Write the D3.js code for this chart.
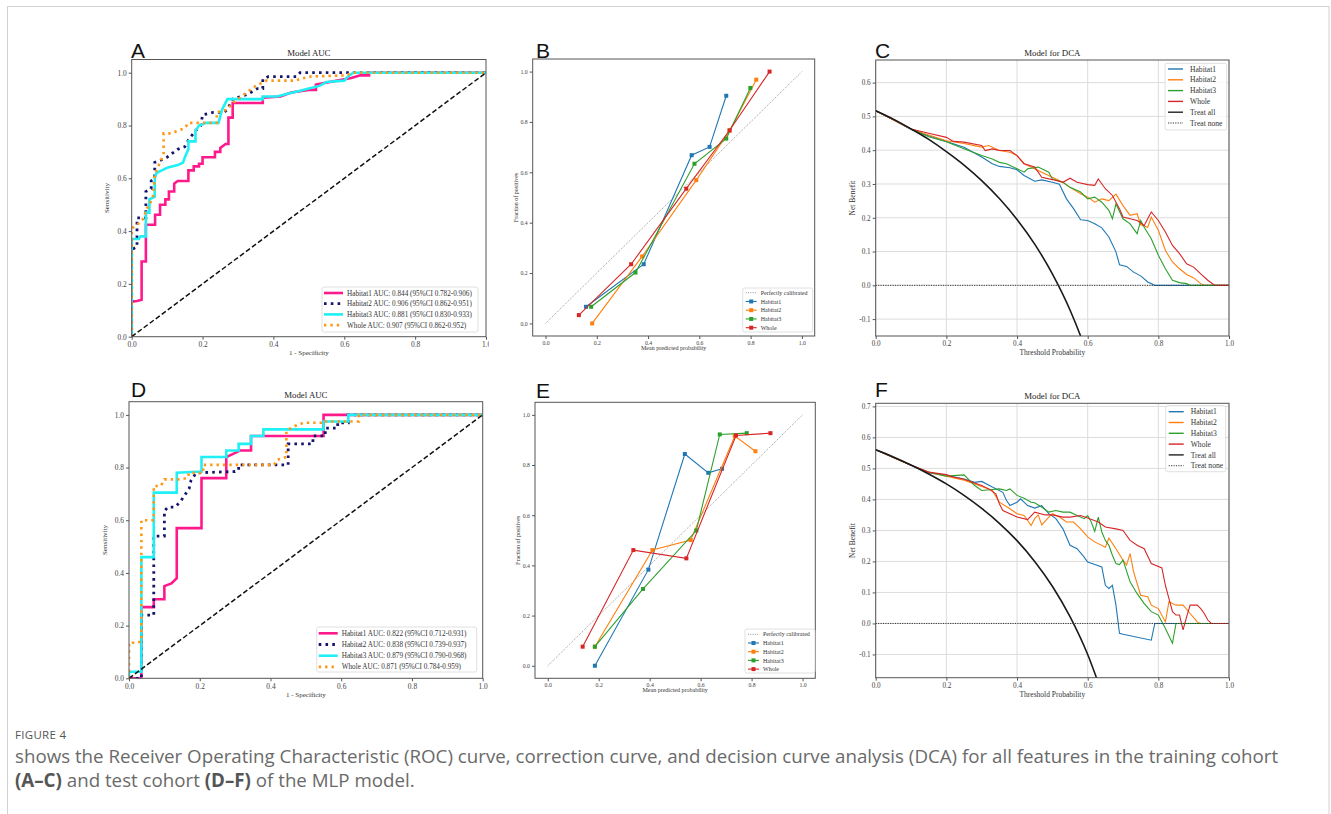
<!DOCTYPE html>
<html>
<head>
<meta charset="utf-8">
<script src="https://cdn.jsdelivr.net/npm/d3@7"></script>
<style>
  body { margin: 0; background: #fff; }
  svg text { font-family: "Liberation Serif", "Times New Roman", serif; }
</style>
</head>
<body>
<svg id="fig" width="1331" height="814"></svg>
<script>
// ---------- data ----------

// ROC, training cohort (panel A): [1 - specificity, sensitivity]
const rocTrainH1 = [[0,0],[0,0.133],[0.015,0.135],[0.028,0.14],[0.028,0.285],[0.04,0.285],[0.04,0.424],[0.066,0.424],[0.066,0.462],[0.08,0.462],[0.08,0.5],[0.095,0.5],[0.095,0.52],[0.105,0.52],[0.105,0.55],[0.12,0.55],[0.12,0.58],[0.13,0.59],[0.16,0.59],[0.16,0.63],[0.175,0.63],[0.175,0.645],[0.19,0.645],[0.19,0.655],[0.2,0.655],[0.2,0.68],[0.235,0.68],[0.235,0.7],[0.25,0.7],[0.25,0.715],[0.265,0.73],[0.273,0.73],[0.273,0.83],[0.285,0.83],[0.285,0.885],[0.37,0.885],[0.37,0.905],[0.42,0.91],[0.45,0.925],[0.5,0.935],[0.52,0.935],[0.52,0.955],[0.58,0.97],[0.62,0.98],[0.645,0.99],[0.67,0.99],[0.67,1],[1,1]];
const rocTrainH2 = [[0,0],[0,0.33],[0.015,0.34],[0.015,0.45],[0.04,0.45],[0.04,0.55],[0.055,0.56],[0.055,0.59],[0.065,0.6],[0.065,0.66],[0.085,0.67],[0.1,0.68],[0.11,0.69],[0.13,0.71],[0.15,0.72],[0.16,0.745],[0.18,0.78],[0.195,0.8],[0.2,0.84],[0.23,0.85],[0.26,0.85],[0.27,0.86],[0.285,0.9],[0.31,0.91],[0.33,0.92],[0.355,0.94],[0.37,0.94],[0.37,0.975],[0.385,0.985],[0.465,0.985],[0.475,1],[1,1]];
const rocTrainH3 = [[0,0],[0,0.37],[0.02,0.37],[0.025,0.38],[0.04,0.38],[0.04,0.47],[0.05,0.47],[0.05,0.52],[0.065,0.53],[0.065,0.6],[0.07,0.62],[0.085,0.63],[0.1,0.64],[0.13,0.65],[0.145,0.66],[0.15,0.68],[0.16,0.71],[0.16,0.74],[0.18,0.74],[0.18,0.78],[0.19,0.8],[0.21,0.81],[0.245,0.81],[0.255,0.86],[0.27,0.9],[0.37,0.9],[0.37,0.91],[0.41,0.91],[0.44,0.92],[0.47,0.93],[0.5,0.94],[0.53,0.95],[0.55,0.965],[0.6,0.97],[0.61,0.985],[0.625,1],[1,1]];
const rocTrainWhole = [[0,0],[0,0.41],[0.01,0.42],[0.02,0.43],[0.035,0.45],[0.04,0.48],[0.05,0.5],[0.06,0.53],[0.065,0.61],[0.07,0.63],[0.08,0.66],[0.09,0.69],[0.09,0.77],[0.11,0.77],[0.13,0.78],[0.15,0.79],[0.16,0.81],[0.24,0.81],[0.24,0.85],[0.27,0.86],[0.28,0.88],[0.3,0.9],[0.33,0.93],[0.35,0.95],[0.38,0.97],[0.46,0.97],[0.5,0.985],[0.6,0.99],[0.63,1],[1,1]];
const rocTrainLabels = ['Habitat1 AUC: 0.844 (95%CI 0.782-0.906)', 'Habitat2 AUC: 0.906 (95%CI 0.862-0.951)', 'Habitat3 AUC: 0.881 (95%CI 0.830-0.933)', 'Whole AUC: 0.907 (95%CI 0.862-0.952)'];

// ROC, test cohort (panel D)
const rocTestH1 = [[0,0],[0.035,0],[0.035,0.27],[0.07,0.27],[0.07,0.3],[0.1,0.3],[0.1,0.35],[0.12,0.36],[0.135,0.38],[0.135,0.57],[0.205,0.57],[0.205,0.76],[0.275,0.76],[0.275,0.84],[0.315,0.865],[0.345,0.865],[0.345,0.92],[0.55,0.92],[0.55,1],[1,1]];
const rocTestH2 = [[0,0],[0.035,0],[0.035,0.24],[0.07,0.24],[0.07,0.54],[0.1,0.54],[0.1,0.635],[0.11,0.65],[0.13,0.65],[0.145,0.67],[0.16,0.7],[0.17,0.72],[0.175,0.75],[0.19,0.78],[0.3,0.785],[0.31,0.79],[0.31,0.81],[0.45,0.81],[0.45,0.89],[0.52,0.89],[0.52,0.92],[0.555,0.92],[0.555,0.95],[0.59,0.95],[0.59,0.97],[0.62,0.97],[0.62,1],[1,1]];
const rocTestH3 = [[0,0],[0,0.025],[0.035,0.025],[0.035,0.46],[0.07,0.46],[0.07,0.705],[0.135,0.705],[0.135,0.78],[0.205,0.785],[0.205,0.84],[0.275,0.84],[0.275,0.865],[0.31,0.865],[0.31,0.89],[0.345,0.89],[0.345,0.92],[0.38,0.92],[0.38,0.945],[0.55,0.945],[0.55,0.975],[0.62,0.975],[0.62,1],[1,1]];
const rocTestWhole = [[0,0],[0,0.135],[0.02,0.135],[0.035,0.14],[0.035,0.6],[0.07,0.6],[0.07,0.73],[0.09,0.73],[0.1,0.755],[0.14,0.755],[0.165,0.76],[0.17,0.78],[0.21,0.78],[0.21,0.81],[0.41,0.81],[0.42,0.83],[0.445,0.84],[0.445,0.94],[0.48,0.965],[0.5,0.97],[0.55,0.97],[0.55,0.975],[0.65,0.975],[0.65,1],[1,1]];
const rocTestLabels = ['Habitat1 AUC: 0.822 (95%CI 0.712-0.931)', 'Habitat2 AUC: 0.838 (95%CI 0.739-0.937)', 'Habitat3 AUC: 0.879 (95%CI 0.790-0.968)', 'Whole AUC: 0.871 (95%CI 0.784-0.959)'];

// calibration, training cohort (panel B): [mean predicted, fraction of positives]
const calTrainH1 = [[0.158,0.066],[0.383,0.235],[0.57,0.668],[0.64,0.701],[0.705,0.904]];
const calTrainH2 = [[0.182,0.0],[0.377,0.266],[0.588,0.569],[0.718,0.765],[0.822,0.968]];
const calTrainH3 = [[0.178,0.066],[0.351,0.202],[0.581,0.634],[0.705,0.734],[0.799,0.935]];
const calTrainWhole = [[0.13,0.033],[0.334,0.235],[0.549,0.535],[0.718,0.767],[0.874,1.0]];

// calibration, test cohort (panel E)
const calTestH1 = [[0.185,0.0],[0.395,0.383],[0.538,0.844],[0.63,0.769],[0.684,0.785]];
const calTestH2 = [[0.185,0.076],[0.411,0.461],[0.561,0.501],[0.734,0.915],[0.815,0.855]];
const calTestH3 = [[0.185,0.076],[0.374,0.306],[0.583,0.539],[0.675,0.922],[0.781,0.927]];
const calTestWhole = [[0.137,0.076],[0.336,0.461],[0.544,0.428],[0.739,0.918],[0.874,0.927]];

const seriesNames = ['Habitat1', 'Habitat2', 'Habitat3', 'Whole'];

// decision curves, training cohort (panel C): [threshold, net benefit]
const dcaTrainH1 = [[0,0.517],[0.05,0.49],[0.1,0.461],[0.15,0.443],[0.2,0.426],[0.25,0.409],[0.3,0.38],[0.33,0.36],[0.35,0.352],[0.38,0.348],[0.4,0.342],[0.42,0.325],[0.45,0.308],[0.47,0.312],[0.5,0.305],[0.52,0.299],[0.54,0.256],[0.56,0.227],[0.58,0.194],[0.6,0.192],[0.62,0.182],[0.64,0.17],[0.66,0.143],[0.68,0.099],[0.69,0.061],[0.71,0.056],[0.73,0.039],[0.75,0.028],[0.77,0.01],[0.79,0],[1,0]];
const dcaTrainH2 = [[0,0.517],[0.05,0.49],[0.1,0.463],[0.15,0.445],[0.2,0.428],[0.25,0.42],[0.3,0.409],[0.32,0.414],[0.35,0.399],[0.38,0.394],[0.4,0.384],[0.42,0.36],[0.45,0.345],[0.47,0.335],[0.5,0.32],[0.53,0.305],[0.55,0.29],[0.58,0.271],[0.6,0.261],[0.62,0.246],[0.64,0.256],[0.66,0.251],[0.68,0.27],[0.7,0.236],[0.72,0.207],[0.74,0.212],[0.75,0.179],[0.77,0.172],[0.78,0.202],[0.8,0.163],[0.82,0.103],[0.84,0.069],[0.86,0.049],[0.88,0.032],[0.9,0.022],[0.92,0.005],[0.93,0],[1,0]];
const dcaTrainH3 = [[0,0.517],[0.05,0.49],[0.1,0.463],[0.15,0.44],[0.2,0.425],[0.25,0.404],[0.3,0.384],[0.33,0.374],[0.35,0.364],[0.37,0.36],[0.4,0.345],[0.42,0.335],[0.43,0.345],[0.46,0.35],[0.49,0.335],[0.5,0.315],[0.53,0.305],[0.55,0.29],[0.58,0.276],[0.6,0.256],[0.62,0.261],[0.64,0.246],[0.66,0.222],[0.67,0.197],[0.68,0.241],[0.7,0.197],[0.72,0.182],[0.74,0.153],[0.75,0.192],[0.76,0.172],[0.78,0.138],[0.8,0.089],[0.82,0.049],[0.84,0.015],[0.86,0.008],[0.88,0.005],[0.89,0],[1,0]];
const dcaTrainWhole = [[0,0.517],[0.05,0.49],[0.1,0.463],[0.15,0.45],[0.2,0.438],[0.22,0.426],[0.25,0.424],[0.3,0.414],[0.31,0.399],[0.33,0.404],[0.35,0.399],[0.38,0.399],[0.4,0.384],[0.42,0.36],[0.45,0.35],[0.47,0.32],[0.5,0.313],[0.53,0.305],[0.55,0.317],[0.57,0.305],[0.6,0.298],[0.62,0.296],[0.63,0.315],[0.65,0.286],[0.67,0.266],[0.69,0.227],[0.7,0.202],[0.72,0.197],[0.74,0.192],[0.76,0.177],[0.78,0.217],[0.8,0.192],[0.82,0.158],[0.84,0.118],[0.86,0.094],[0.88,0.064],[0.9,0.054],[0.92,0.034],[0.94,0.015],[0.96,0],[1,0]];

// decision curves, test cohort (panel F)
const dcaTestH1 = [[0,0.56],[0.05,0.535],[0.1,0.51],[0.15,0.485],[0.2,0.478],[0.25,0.466],[0.28,0.455],[0.3,0.458],[0.33,0.44],[0.36,0.423],[0.37,0.397],[0.38,0.38],[0.4,0.391],[0.41,0.402],[0.43,0.38],[0.45,0.372],[0.47,0.38],[0.49,0.354],[0.51,0.338],[0.53,0.305],[0.55,0.252],[0.57,0.241],[0.59,0.214],[0.6,0.198],[0.62,0.19],[0.64,0.182],[0.65,0.123],[0.66,0.113],[0.67,0.123],[0.68,0.059],[0.69,-0.032],[0.7,-0.035],[0.78,-0.054],[0.79,0],[1,0]];
const dcaTestH2 = [[0,0.56],[0.05,0.535],[0.1,0.51],[0.15,0.487],[0.2,0.475],[0.25,0.462],[0.3,0.442],[0.33,0.429],[0.35,0.391],[0.38,0.37],[0.4,0.354],[0.42,0.348],[0.44,0.316],[0.45,0.338],[0.46,0.35],[0.47,0.318],[0.49,0.343],[0.5,0.354],[0.52,0.343],[0.54,0.327],[0.56,0.327],[0.58,0.305],[0.6,0.279],[0.62,0.263],[0.65,0.246],[0.66,0.275],[0.68,0.241],[0.7,0.204],[0.71,0.188],[0.72,0.225],[0.73,0.166],[0.75,0.091],[0.77,0.086],[0.78,0.059],[0.8,0.048],[0.82,0.005],[0.83,0.07],[0.85,0.059],[0.87,0.059],[0.89,0.032],[0.91,0.005],[0.92,0],[1,0]];
const dcaTestH3 = [[0,0.56],[0.05,0.535],[0.1,0.51],[0.15,0.488],[0.2,0.475],[0.25,0.479],[0.28,0.445],[0.3,0.429],[0.33,0.432],[0.35,0.434],[0.37,0.429],[0.38,0.434],[0.4,0.413],[0.42,0.404],[0.44,0.391],[0.45,0.389],[0.47,0.375],[0.49,0.359],[0.51,0.364],[0.53,0.359],[0.55,0.359],[0.57,0.348],[0.59,0.338],[0.6,0.348],[0.61,0.327],[0.62,0.297],[0.63,0.343],[0.64,0.295],[0.65,0.268],[0.66,0.252],[0.67,0.22],[0.68,0.193],[0.69,0.19],[0.7,0.204],[0.72,0.134],[0.74,0.096],[0.76,0.064],[0.78,0.038],[0.8,0.027],[0.82,-0.016],[0.84,-0.064],[0.85,0],[1,0]];
const dcaTestWhole = [[0,0.56],[0.05,0.535],[0.1,0.51],[0.15,0.488],[0.2,0.48],[0.22,0.472],[0.25,0.465],[0.3,0.445],[0.32,0.434],[0.34,0.418],[0.35,0.386],[0.36,0.364],[0.38,0.354],[0.4,0.343],[0.43,0.335],[0.45,0.359],[0.48,0.35],[0.5,0.35],[0.53,0.343],[0.55,0.343],[0.58,0.348],[0.6,0.34],[0.63,0.327],[0.65,0.311],[0.68,0.305],[0.7,0.3],[0.72,0.268],[0.74,0.252],[0.76,0.241],[0.78,0.193],[0.81,0.179],[0.82,0.123],[0.84,0.038],[0.85,0.027],[0.86,0.027],[0.87,-0.021],[0.88,0.021],[0.89,0.059],[0.91,0.059],[0.92,0.048],[0.93,0.032],[0.94,0.011],[0.95,0],[1,0]];

// "treat all" curves, read at these thresholds
const treatAllThresh = [0,0.05,0.1,0.15,0.2,0.25,0.3,0.35,0.4,0.45,0.5,0.55,0.6,0.65];
const treatAllTrain = [0.517,0.492,0.463,0.432,0.396,0.356,0.31,0.257,0.195,0.122,0.034,-0.073,-0.208,-0.38];
const treatAllTest = [0.56,0.537,0.511,0.482,0.45,0.413,0.371,0.323,0.267,0.2,0.12,0.022,-0.1,-0.257];
const dcaLegend = ['Habitat1', 'Habitat2', 'Habitat3', 'Whole', 'Treat all', 'Treat none'];

// tick values
const unitTicks = [0, 0.2, 0.4, 0.6, 0.8, 1.0];
const dcaTrainYTicks = [-0.1, 0, 0.1, 0.2, 0.3, 0.4, 0.5, 0.6];
const dcaTestYTicks = [-0.1, 0, 0.1, 0.2, 0.3, 0.4, 0.5, 0.6, 0.7];

// ---------- styles ----------
const rocStyles = [
  {color: '#ff1a8c', width: 2.6, dash: null},
  {color: '#14146e', width: 2.8, dash: '2.6,4.2'},
  {color: '#1ff0f5', width: 2.6, dash: null},
  {color: '#ff9614', width: 2.6, dash: '2.4,4'}
];
const tabColors = ['#1f77b4', '#ff7f0e', '#2ca02c', '#d62728'];
const serif = '"Liberation Serif", "Times New Roman", serif';

const svg = d3.select('#fig');

// light frame around the whole figure
svg.append('rect')
  .attr('x', 7.5).attr('y', 6.5)
  .attr('width', 1321.5).attr('height', 900)
  .attr('fill', 'none').attr('stroke', '#d2d2d2');

// builds the axes box for one panel, returns scales and layers
function setupPanel(p) {
  const x = d3.scaleLinear().domain(p.xd).range([p.left, p.right]);
  const y = d3.scaleLinear().domain(p.yd).range([p.bottom, p.top]);
  const g = svg.append('g');
  const gridLayer = g.append('g');
  const axisLayer = g.append('g');

  svg.append('clipPath').attr('id', 'clip' + p.key)
    .append('rect')
    .attr('x', p.left).attr('y', p.top)
    .attr('width', p.right - p.left).attr('height', p.bottom - p.top);

  const plot = g.append('g').attr('clip-path', `url(#clip${p.key})`);
  const over = g.append('g');

  if (p.grid) {
    gridLayer.selectAll('.vg').data(p.xticks).enter().append('line')
      .attr('x1', d => x(d)).attr('x2', d => x(d))
      .attr('y1', p.top).attr('y2', p.bottom)
      .attr('stroke', '#dcdcdc').attr('stroke-width', 1);
    gridLayer.selectAll('.hg').data(p.yticks).enter().append('line')
      .attr('y1', d => y(d)).attr('y2', d => y(d))
      .attr('x1', p.left).attr('x2', p.right)
      .attr('stroke', '#dcdcdc').attr('stroke-width', 1);
  }

  const fmt = d => d.toFixed(1);
  const xAxis = axisLayer.append('g')
    .attr('transform', `translate(0,${p.bottom})`)
    .call(d3.axisBottom(x).tickValues(p.xticks).tickFormat(fmt).tickSize(3).tickPadding(2));
  const yAxis = axisLayer.append('g')
    .attr('transform', `translate(${p.left},0)`)
    .call(d3.axisLeft(y).tickValues(p.yticks).tickFormat(fmt).tickSize(3).tickPadding(2));

  [xAxis, yAxis].forEach(a => {
    a.select('.domain').remove();
    a.selectAll('.tick line').attr('stroke', '#555');
    a.selectAll('.tick text')
      .attr('fill', '#444')
      .style('font-family', serif)
      .style('font-size', p.tickFont + 'px');
  });
  if (p.clipX) xAxis.attr('clip-path', 'url(#clipEdge)');

  // frame on top of the lines
  over.append('rect')
    .attr('x', p.left).attr('y', p.top)
    .attr('width', p.right - p.left).attr('height', p.bottom - p.top)
    .attr('fill', 'none').attr('stroke', '#555').attr('stroke-width', 1);

  // titles and labels
  if (p.title) {
    over.append('text')
      .attr('x', (p.left + p.right) / 2).attr('y', p.top - 4)
      .attr('text-anchor', 'middle')
      .style('font-size', '8.8px').attr('fill', '#222')
      .text(p.title);
  }
  over.append('text')
    .attr('x', (p.left + p.right) / 2).attr('y', p.xlabY)
    .attr('text-anchor', 'middle')
    .style('font-size', p.labFont + 'px').attr('fill', '#333')
    .text(p.xlab);
  over.append('text')
    .attr('transform', `translate(${p.ylabX},${(p.top + p.bottom) / 2}) rotate(-90)`)
    .attr('text-anchor', 'middle')
    .style('font-size', p.labFont + 'px').attr('fill', '#333')
    .text(p.ylab);

  // panel letter
  svg.append('text')
    .attr('x', p.letterX).attr('y', p.letterY)
    .style('font-family', '"Liberation Sans", Arial, sans-serif')
    .style('font-size', '21px').attr('fill', '#111')
    .text(p.key);

  return {x, y, plot, over};
}

// clip so that the last tick label of panel A is cut like the original
svg.append('clipPath').attr('id', 'clipEdge')
  .append('rect').attr('x', 0).attr('y', 0).attr('width', 489).attr('height', 814);

function legendBox(layer, box) {
  layer.append('rect')
    .attr('x', box.x).attr('y', box.y)
    .attr('width', box.w).attr('height', box.h)
    .attr('rx', 2)
    .attr('fill', '#fff').attr('fill-opacity', 0.85)
    .attr('stroke', '#d8d8d8').attr('stroke-width', 0.8);
}

// ---------- ROC panels ----------
function drawRoc(p, series, labels, box) {
  const {x, y, plot, over} = setupPanel(p);
  const line = d3.line().x(d => x(d[0])).y(d => y(d[1]));

  series.forEach((s, i) => {
    const st = rocStyles[i];
    plot.append('path')
      .datum(s)
      .attr('d', line)
      .attr('fill', 'none')
      .attr('stroke', st.color)
      .attr('stroke-width', st.width)
      .attr('stroke-dasharray', st.dash);
  });

  // chance diagonal
  plot.append('path')
    .datum([[0, 0], [1, 1]])
    .attr('d', line)
    .attr('fill', 'none')
    .attr('stroke', '#111')
    .attr('stroke-width', 1.5)
    .attr('stroke-dasharray', '5,2.5');

  legendBox(over, box);
  labels.forEach((lab, i) => {
    const st = rocStyles[i];
    const yy = box.y + box.pad + i * box.step;
    over.append('line')
      .attr('x1', box.x + 2).attr('x2', box.x + 21)
      .attr('y1', yy).attr('y2', yy)
      .attr('stroke', st.color).attr('stroke-width', st.width)
      .attr('stroke-dasharray', st.dash);
    over.append('text')
      .attr('x', box.x + 25).attr('y', yy)
      .attr('dy', '0.35em')
      .style('font-size', '7.2px').attr('fill', '#333')
      .text(lab);
  });
}

// ---------- calibration panels ----------
function drawCal(p, series, box) {
  const {x, y, plot, over} = setupPanel(p);
  const line = d3.line().x(d => x(d[0])).y(d => y(d[1]));

  plot.append('path')
    .datum([[0, 0], [1, 1]])
    .attr('d', line)
    .attr('fill', 'none')
    .attr('stroke', '#777')
    .attr('stroke-width', 0.8)
    .attr('stroke-dasharray', '1,1.3');

  series.forEach((s, i) => {
    plot.append('path')
      .datum(s)
      .attr('d', line)
      .attr('fill', 'none')
      .attr('stroke', tabColors[i])
      .attr('stroke-width', 1.1);
    plot.selectAll('.m' + i).data(s).enter().append('rect')
      .attr('x', d => x(d[0]) - 2).attr('y', d => y(d[1]) - 2)
      .attr('width', 4).attr('height', 4)
      .attr('fill', tabColors[i]);
  });

  legendBox(over, box);
  const names = ['Perfectly calibrated'].concat(seriesNames);
  names.forEach((n, i) => {
    const yy = box.y + box.pad + i * box.step;
    const color = i === 0 ? '#777' : tabColors[i - 1];
    over.append('line')
      .attr('x1', box.x + 3).attr('x2', box.x + 14)
      .attr('y1', yy).attr('y2', yy)
      .attr('stroke', color).attr('stroke-width', i === 0 ? 0.8 : 1.1)
      .attr('stroke-dasharray', i === 0 ? '1,1.3' : null);
    if (i > 0) {
      over.append('rect')
        .attr('x', box.x + 6.5).attr('y', yy - 2)
        .attr('width', 4).attr('height', 4)
        .attr('fill', color);
    }
    over.append('text')
      .attr('x', box.x + 18).attr('y', yy)
      .attr('dy', '0.35em')
      .style('font-size', '6px').attr('fill', '#333')
      .text(n);
  });
}

// ---------- decision curve panels ----------
function drawDca(p, series, treatAll, box) {
  const {x, y, plot, over} = setupPanel(p);
  const line = d3.line().x(d => x(d[0])).y(d => y(d[1]));

  series.forEach((s, i) => {
    plot.append('path')
      .datum(s)
      .attr('d', line)
      .attr('fill', 'none')
      .attr('stroke', tabColors[i])
      .attr('stroke-width', 1.1);
  });

  const allPts = treatAllThresh.map((t, i) => [t, treatAll[i]]);
  plot.append('path')
    .datum(allPts)
    .attr('d', line.curve(d3.curveMonotoneX))
    .attr('fill', 'none')
    .attr('stroke', '#1a1a1a')
    .attr('stroke-width', 1.6);
  line.curve(d3.curveLinear);

  plot.append('path')
    .datum([[0, 0], [1, 0]])
    .attr('d', line)
    .attr('fill', 'none')
    .attr('stroke', '#333')
    .attr('stroke-width', 1)
    .attr('stroke-dasharray', '1.2,1.2');

  legendBox(over, box);
  dcaLegend.forEach((n, i) => {
    const yy = box.y + box.pad + i * box.step;
    const color = i < 4 ? tabColors[i] : '#222';
    over.append('line')
      .attr('x1', box.x + 3).attr('x2', box.x + 18)
      .attr('y1', yy).attr('y2', yy)
      .attr('stroke', color)
      .attr('stroke-width', i === 5 ? 0.9 : 1.4)
      .attr('stroke-dasharray', i === 5 ? '1.2,1.2' : null);
    over.append('text')
      .attr('x', box.x + 25).attr('y', yy)
      .attr('dy', '0.35em')
      .style('font-size', '7.6px').attr('fill', '#333')
      .text(n);
  });
}

// ---------- panel layouts ----------
drawRoc({key: 'A', left: 131.7, right: 486, top: 59.5, bottom: 336.7, xd: [0, 1], yd: [0, 1.05],
         xticks: unitTicks, yticks: unitTicks, tickFont: 7.4, labFont: 7, clipX: true,
         title: 'Model AUC', xlab: '1 - Specificity', ylab: 'Sensitivity', xlabY: 355, ylabX: 109,
         letterX: 131, letterY: 58},
        [rocTrainH1, rocTrainH2, rocTrainH3, rocTrainWhole], rocTrainLabels,
        {x: 322, y: 287, w: 156, h: 45, pad: 6, step: 10.7});

drawRoc({key: 'D', left: 129, right: 482.7, top: 401.7, bottom: 678.3, xd: [0, 1], yd: [0, 1.05],
         xticks: unitTicks, yticks: unitTicks, tickFont: 7.4, labFont: 7,
         title: 'Model AUC', xlab: '1 - Specificity', ylab: 'Sensitivity', xlabY: 697, ylabX: 107,
         letterX: 131, letterY: 397},
        [rocTestH1, rocTestH2, rocTestH3, rocTestWhole], rocTestLabels,
        {x: 316.7, y: 627, w: 160, h: 45, pad: 6.3, step: 11.2});

drawCal({key: 'B', left: 532.7, right: 814.7, top: 59, bottom: 336, xd: [-0.05, 1.05], yd: [-0.05, 1.05],
         xticks: unitTicks, yticks: unitTicks, tickFont: 5.8, labFont: 6,
         xlab: 'Mean predicted probability', ylab: 'Fraction of positives', xlabY: 350, ylabX: 518,
         letterX: 536, letterY: 58},
        [calTrainH1, calTrainH2, calTrainH3, calTrainWhole],
        {x: 742.7, y: 288, w: 70, h: 44, pad: 4.7, step: 8.75});

drawCal({key: 'E', left: 535, right: 815.3, top: 402.3, bottom: 678.3, xd: [-0.05, 1.05], yd: [-0.05, 1.05],
         xticks: unitTicks, yticks: unitTicks, tickFont: 5.8, labFont: 6,
         xlab: 'Mean predicted probability', ylab: 'Fraction of positives', xlabY: 692, ylabX: 520,
         letterX: 536, letterY: 398},
        [calTestH1, calTestH2, calTestH3, calTestWhole],
        {x: 745, y: 629, w: 70, h: 44, pad: 5.3, step: 8.7});

drawDca({key: 'C', left: 875.7, right: 1229, top: 60, bottom: 336, xd: [0, 1], yd: [-0.15, 0.667], grid: true,
         xticks: unitTicks, yticks: dcaTrainYTicks, tickFont: 7.2, labFont: 7.5,
         title: 'Model for DCA', xlab: 'Threshold Probability', ylab: 'Net Benefit', xlabY: 355, ylabX: 855,
         letterX: 875, letterY: 58},
        [dcaTrainH1, dcaTrainH2, dcaTrainH3, dcaTrainWhole], treatAllTrain,
        {x: 1165, y: 63.3, w: 61.7, h: 66.7, pad: 5.7, step: 10.8});

drawDca({key: 'F', left: 875.7, right: 1229, top: 403.3, bottom: 677.7, xd: [0, 1], yd: [-0.175, 0.71], grid: true,
         xticks: unitTicks, yticks: dcaTestYTicks, tickFont: 7.2, labFont: 7.5,
         title: 'Model for DCA', xlab: 'Threshold Probability', ylab: 'Net Benefit', xlabY: 697, ylabX: 855,
         letterX: 875, letterY: 397},
        [dcaTestH1, dcaTestH2, dcaTestH3, dcaTestWhole], treatAllTest,
        {x: 1165.7, y: 405.7, w: 60, h: 66, pad: 6, step: 10.8});

// ---------- caption ----------
const sans = '"Open Sans", "Noto Sans", sans-serif';
svg.append('text')
  .attr('x', 15).attr('y', 739)
  .style('font-family', sans).style('font-size', '11.5px')
  .style('letter-spacing', '0.3px')
  .attr('fill', '#555')
  .text('FIGURE 4');

const cap1 = svg.append('text')
  .attr('x', 15).attr('y', 763)
  .style('font-family', sans).style('font-size', '17px')
  .attr('fill', '#6a6a6a')
  .text('shows the Receiver Operating Characteristic (ROC) curve, correction curve, and decision curve analysis (DCA) for all features in the training cohort');

// scale caption so the first line ends where the original does
const w1 = cap1.node().getComputedTextLength();
const capSize = 17 * 1264 / w1;
cap1.style('font-size', capSize + 'px');

const cap2 = svg.append('text')
  .attr('x', 15).attr('y', 787)
  .style('font-family', sans).style('font-size', capSize + 'px')
  .attr('fill', '#6a6a6a');
cap2.append('tspan').attr('font-weight', 'bold').attr('fill', '#555').text('(A–C)');
cap2.append('tspan').text(' and test cohort ');
cap2.append('tspan').attr('font-weight', 'bold').attr('fill', '#555').text('(D–F)');
cap2.append('tspan').text(' of the MLP model.');
</script>
</body>
</html>
